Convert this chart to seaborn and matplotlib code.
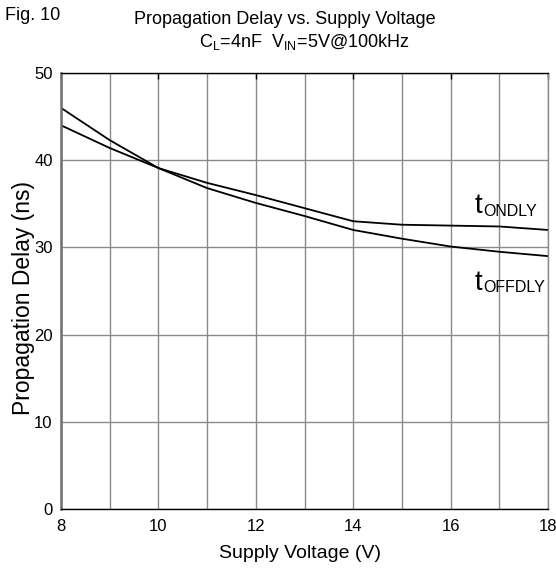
import matplotlib
matplotlib.use("Agg")
import matplotlib.pyplot as plt
import seaborn as sns
import pandas as pd

# Supply voltage sweep and measured propagation delays (ns)
voltage = [8, 9, 10, 11, 12, 13, 14, 15, 16, 17, 18]
t_ondly = [44.0, 41.4, 39.1, 37.4, 36.0, 34.5, 33.0, 32.6, 32.5, 32.4, 32.0]
t_offdly = [46.0, 42.3, 39.1, 36.8, 35.1, 33.6, 32.0, 31.0, 30.1, 29.5, 29.0]

x_ticks = [8, 10, 12, 14, 16, 18]
y_ticks = [0, 10, 20, 30, 40, 50]

sns.set_theme(style="white")
family = "Liberation Sans"
plt.rcParams["font.family"] = [family, "DejaVu Sans"]

df = pd.DataFrame({
    "V": voltage * 2,
    "delay": t_ondly + t_offdly,
    "series": ["ON"] * len(voltage) + ["OFF"] * len(voltage),
})

W, H = 556, 573
fig = plt.figure(figsize=(W / 100, H / 100), dpi=100)
ax = fig.add_axes([61 / W, 1 - 509 / H, 487 / W, 436 / H])

sns.lineplot(data=df, x="V", y="delay", units="series", estimator=None,
             color="black", linewidth=1.3, ax=ax, legend=False)

ax.set_xlim(8, 18)
ax.set_ylim(0, 50)
ax.set_xticks(x_ticks)
ax.set_yticks(y_ticks)
ax.set_xticks(range(8, 19), minor=True)
ax.grid(True, which="both", axis="x", color="#8a8a8a", linewidth=1.0)
ax.grid(True, which="major", axis="y", color="#8a8a8a", linewidth=1.0)
ax.set_axisbelow(True)
ax.tick_params(axis="x", which="major", direction="in", length=4, width=1,
               color="black", top=True, labelsize=12, pad=7, labelcolor="black")
ax.tick_params(axis="y", which="major", direction="out", length=5, width=1,
               color="black", labelsize=12, pad=1, labelcolor="black")
ax.tick_params(which="minor", length=0)
for s in ax.spines.values():
    s.set_color("black")
    s.set_linewidth(1.0)
ax.spines["left"].set_color("#707070")
ax.spines["left"].set_linewidth(1.8)
ax.spines["right"].set_color("#8a8a8a")

ax.set_xlabel("Supply Voltage (V)", fontsize=14, color="black", va="center")
ax.set_ylabel("Propagation Delay (ns)", fontsize=16.5, color="black", va="center")
ax.xaxis.set_label_coords((300 - 61) / 487, (509 - 554) / 436)
ax.yaxis.set_label_coords((24 - 61) / 487, (509 - 298) / 436)

fig.text(5 / W, 1 - 15 / H, "Fig. 10", fontsize=13, va="center", ha="left", color="black")
fig.text(285 / W, 1 - 20 / H, "Propagation Delay vs. Supply Voltage",
         fontsize=13, ha="center", va="center", color="black")
fig.text(304 / W, 1 - 42 / H,
         r"$\mathregular{C_L}$=4nF  $\mathregular{V_{IN}}$=5V@100kHz",
         fontsize=13, ha="center", va="center", color="black")

# Curve labels: large "t" with subscript text beside it
for y_base, sub in [(33.9, "ONDLY"), (25.1, "OFFDLY")]:
    ax.text(16.5, y_base, "t", fontsize=20, ha="left", va="baseline", color="black")
    ax.text(16.68, y_base - 0.25, sub, fontsize=11.5, ha="left", va="baseline", color="black")

fig.savefig("out.png", dpi=100, facecolor="white")
